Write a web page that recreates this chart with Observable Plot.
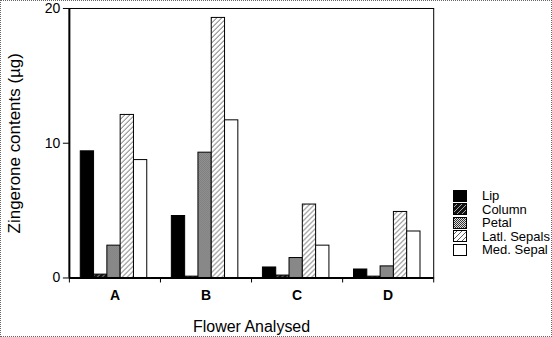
<!DOCTYPE html>
<html><head><meta charset="utf-8">
<script src="https://cdn.jsdelivr.net/npm/d3@7"></script>
<script src="https://cdn.jsdelivr.net/npm/@observablehq/plot@0.6"></script>
<style>
body{margin:0;background:#fff;}
#wrap{position:relative;width:550px;height:335px;border:1px dotted #666;font-family:"Liberation Sans",Arial,sans-serif;background:#fff;}
#chart{position:absolute;left:-1px;top:-1px;}
#legend{position:absolute;left:452px;top:188px;font-size:13px;color:#000;}
#legend .row{display:flex;align-items:center;height:13.5px;}
#legend svg{margin-right:15px;display:block;}
</style></head>
<body>
<svg width="0" height="0" style="position:absolute">
  <defs>
    <pattern id="pColumn" patternUnits="userSpaceOnUse" width="5" height="5">
      <rect width="5" height="5" fill="#111"/>
      <path d="M-1,1 l2,-2 M0,5 l5,-5 M4,6 l2,-2" stroke="#bbb" stroke-width="0.9"/>
    </pattern>
    <pattern id="pPetal" patternUnits="userSpaceOnUse" width="2" height="2">
      <rect width="2" height="2" fill="#ddd"/>
      <rect width="1" height="1" fill="#333"/>
      <rect x="1" y="1" width="1" height="1" fill="#333"/>
    </pattern>
    <pattern id="pLatl" patternUnits="userSpaceOnUse" width="5" height="5">
      <rect width="5" height="5" fill="#fff"/>
      <path d="M-1,1 l2,-2 M0,5 l5,-5 M4,6 l2,-2" stroke="#333" stroke-width="0.8"/>
    </pattern>
  </defs>
</svg>
<div id="wrap"><div id="chart"></div><div id="legend"></div></div>
<script>
const flowers = ["A", "B", "C", "D"];
const parts = ["Lip", "Column", "Petal", "Latl. Sepals", "Med. Sepal"];
const lip = [9.4, 4.6, 0.78, 0.63];
const column = [0.25, 0.1, 0.18, 0.1];
const petal = [2.4, 9.3, 1.48, 0.86];
const latlSepals = [12.1, 19.3, 5.45, 4.9];
const medSepal = [8.75, 11.7, 2.4, 3.45];
const yTicks = [0, 10, 20];
const fills = ["#000", "url(#pColumn)", "url(#pPetal)", "url(#pLatl)", "#fff"];

const series = [lip, column, petal, latlSepals, medSepal];
const barW = 0.146, start = -0.375;
const rows = [];
flowers.forEach((f, fi) => parts.forEach((p, pi) => {
  rows.push({flower: f, part: p, value: series[pi][fi],
    x1: fi + start + pi * barW, x2: fi + start + (pi + 1) * barW});
}));

const font = "'Liberation Sans', Arial, sans-serif";
const chart = Plot.plot({
  width: 552, height: 337,
  marginLeft: 69, marginRight: 118, marginTop: 8, marginBottom: 59,
  style: {fontFamily: font, fontSize: "14px", background: "transparent", color: "#000"},
  x: {type: "linear", domain: [-0.5, 3.5]},
  y: {domain: [0, 20]},
  color: {type: "ordinal", domain: parts, range: fills},
  marks: [
    Plot.rectY(rows, {x1: "x1", x2: "x2", y: "value", fill: "part", stroke: "#000", strokeWidth: 1}),
    Plot.frame({stroke: "#000", strokeWidth: 1}),
    Plot.ruleY([0], {stroke: "#000", strokeWidth: 2}),
    Plot.ruleX([-0.5], {stroke: "#000", strokeWidth: 2}),
    Plot.axisY({ticks: yTicks, tickSize: 6, tickPadding: 3, fontSize: 14, label: null}),
    Plot.axisY({ticks: [], fontSize: 17, label: "Zingerone contents (µg)", labelArrow: "none",
      labelAnchor: "center", labelOffset: 62}),
    Plot.axisX({ticks: [-0.5, 0.5, 1.5, 2.5, 3.5], tickSize: 5, tickFormat: () => "", label: null}),
    Plot.axisX({ticks: [0, 1, 2, 3], tickSize: 0, tickPadding: 12, tickFormat: i => flowers[i],
      fontWeight: "bold", fontSize: 14, label: null}),
    Plot.axisX({ticks: [], fontSize: 16, label: "Flower Analysed", labelArrow: "none",
      labelAnchor: "center", labelOffset: 54})
  ]
});
document.getElementById("chart").appendChild(chart);

const legend = document.getElementById("legend");
parts.forEach((p, i) => {
  const row = document.createElement("div");
  row.className = "row";
  row.innerHTML = `<svg width="14" height="12"><rect x="0.5" y="0.5" width="13" height="11" fill="${fills[i]}" stroke="#000"/></svg><span>${p}</span>`;
  legend.appendChild(row);
});
</script>
</body></html>
